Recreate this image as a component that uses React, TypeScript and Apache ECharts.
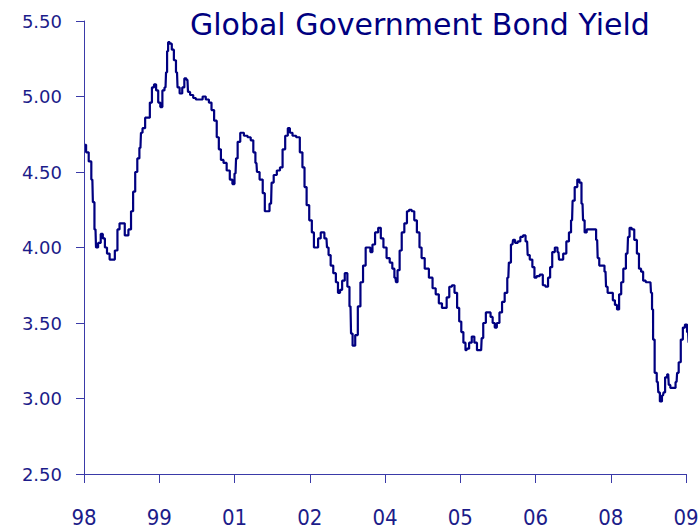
import React, { useEffect, useRef } from "react";
import * as echarts from "echarts";

const title = "Global Government Bond Yield";
const xTickLabels = ["98", "99", "01", "02", "04", "05", "06", "08", "09"];
const weeksPerTick = 72;
const yTicks = { min: 2.5, max: 5.5, step: 0.5 };

// week index since start of series
const weeks = [
  1, 3, 6, 8, 9, 11, 12, 15, 17, 19, 21, 23, 26, 28, 31, 33, 35, 37, 41, 44,
  46, 48, 50, 52, 54, 55, 57, 60, 62, 64, 66, 68, 70, 72, 74, 76, 78, 79, 80, 81,
  83, 85, 87, 89, 90, 93, 95, 97, 99, 100, 103, 106, 108, 112, 115, 118, 121, 123, 126, 128,
  130, 132, 135, 138, 141, 143, 145, 146, 148, 151, 155, 158, 161, 163, 165, 166, 170, 172, 174, 176,
  179, 180, 183, 186, 189, 191, 194, 196, 198, 201, 205, 208, 210, 212, 214, 217, 219, 221, 223, 225,
  228, 232, 233, 235, 237, 240, 242, 244, 246, 248, 251, 253, 255, 256, 258, 261, 263, 266, 268, 271,
  273, 275, 277, 280, 283, 285, 288, 291, 294, 296, 298, 299, 301, 303, 305, 308, 310, 312, 315, 317,
  320, 322, 324, 328, 332, 335, 338, 341, 344, 346, 348, 351, 353, 356, 358, 360, 362, 364, 366, 367,
  370, 372, 375, 377, 380, 381, 383, 386, 388, 390, 392, 394, 396, 399, 401, 404, 406, 407, 410, 411,
  414, 416, 419, 421, 424, 425, 428, 430, 432, 434, 438, 440, 443, 445, 447, 449, 452, 454, 455, 457,
  460, 463, 465, 467, 468, 471, 473, 475, 477, 478, 480, 482, 487, 489, 491, 492, 494, 497, 499, 500,
  502, 505, 507, 509, 511, 513, 515, 517, 520, 521, 523, 525, 528, 530, 532, 534, 536, 539, 542, 543,
  544, 545, 547, 549, 550, 552, 554, 555, 557, 559, 560, 562, 565, 567, 568, 570, 572, 574, 576, 578,
  579,
];

const yields = [
  4.68, 4.63, 4.57, 4.45, 4.30, 4.12, 4.00, 4.03, 4.09, 4.06, 4.00, 3.96, 3.92, 3.92, 3.98, 4.12, 4.16, 4.16, 4.08, 4.12,
  4.24, 4.37, 4.50, 4.59, 4.66, 4.76, 4.79, 4.86, 4.86, 4.96, 5.06, 5.08, 5.04, 4.96, 4.93, 5.04, 5.06, 5.16, 5.30, 5.36,
  5.35, 5.31, 5.24, 5.16, 5.06, 5.02, 5.06, 5.12, 5.11, 5.03, 5.01, 4.99, 4.98, 4.98, 5.00, 4.98, 4.96, 4.91, 4.84, 4.73,
  4.65, 4.58, 4.56, 4.51, 4.45, 4.42, 4.49, 4.59, 4.70, 4.76, 4.74, 4.73, 4.71, 4.63, 4.56, 4.50, 4.45, 4.36, 4.24, 4.24,
  4.29, 4.43, 4.48, 4.51, 4.53, 4.65, 4.74, 4.79, 4.76, 4.74, 4.73, 4.63, 4.53, 4.40, 4.28, 4.18, 4.10, 4.00, 4.00, 4.06,
  4.10, 4.06, 4.00, 3.95, 3.88, 3.83, 3.77, 3.70, 3.72, 3.78, 3.83, 3.74, 3.61, 3.43, 3.35, 3.42, 3.61, 3.77, 3.88, 4.00,
  4.00, 3.97, 4.02, 4.10, 4.13, 4.06, 4.00, 3.93, 3.90, 3.86, 3.80, 3.77, 3.85, 3.98, 4.10, 4.16, 4.24, 4.25, 4.24, 4.18,
  4.10, 4.00, 3.93, 3.86, 3.80, 3.73, 3.69, 3.63, 3.60, 3.60, 3.67, 3.74, 3.75, 3.70, 3.60, 3.51, 3.44, 3.37, 3.32, 3.33,
  3.37, 3.41, 3.37, 3.32, 3.32, 3.40, 3.50, 3.57, 3.57, 3.54, 3.50, 3.47, 3.50, 3.57, 3.64, 3.70, 3.80, 3.90, 4.02, 4.05,
  4.03, 4.04, 4.07, 4.08, 4.04, 3.95, 3.92, 3.87, 3.80, 3.81, 3.82, 3.75, 3.74, 3.80, 3.87, 3.97, 4.00, 3.97, 3.92, 3.92,
  3.96, 4.04, 4.10, 4.18, 4.31, 4.40, 4.45, 4.43, 4.29, 4.18, 4.10, 4.12, 4.12, 4.12, 4.05, 3.93, 3.88, 3.88, 3.84, 3.74,
  3.70, 3.70, 3.65, 3.62, 3.59, 3.69, 3.77, 3.86, 3.96, 4.07, 4.13, 4.12, 4.05, 3.96, 3.86, 3.84, 3.78, 3.77, 3.77, 3.70,
  3.59, 3.39, 3.17, 3.11, 3.04, 2.98, 3.02, 3.04, 3.14, 3.16, 3.09, 3.07, 3.07, 3.11, 3.17, 3.24, 3.39, 3.47, 3.49, 3.44,
  3.37,
];

const NAVY = "#000080";
const LABEL = "#1c1c8a";
const AXIS = "#3a3aa8";

export default function App() {
  const ref = useRef<HTMLDivElement>(null);
  useEffect(() => {
    if (!ref.current) return;
    const chart = echarts.init(ref.current, undefined, { renderer: "svg" });
    const data = weeks.map((w, i) => [w, yields[i]]);
    const maxWeek = weeksPerTick * (xTickLabels.length - 1);
    chart.setOption({
      animation: false,
      backgroundColor: "#ffffff",
      title: {
        text: title,
        left: 185,
        top: 4,
        textStyle: {
          color: NAVY,
          fontFamily: "DejaVu Sans",
          fontSize: 30,
          fontWeight: "normal",
        },
      },
      grid: {
        left: 84,
        right: 14,
        top: 21,
        bottom: 56,
        containLabel: false,
        outerBoundsMode: "none",
      },
      xAxis: {
        type: "value",
        min: 0,
        max: maxWeek,
        interval: weeksPerTick,
        splitLine: { show: false },
        axisLine: { show: true, lineStyle: { color: AXIS, width: 1 } },
        axisTick: { show: true, length: 9, lineStyle: { color: AXIS } },
        axisLabel: {
          margin: 32,
          color: LABEL,
          fontFamily: "DejaVu Sans Condensed, DejaVu Sans",
          fontSize: 22,
          hideOverlap: false,
          showMinLabel: true,
          showMaxLabel: true,
          formatter: (v: number) => {
            const idx = Math.round(v / weeksPerTick);
            return Math.abs(v - idx * weeksPerTick) < 1e-6 ? xTickLabels[idx] ?? "" : "";
          },
        },
      },
      yAxis: {
        type: "value",
        min: yTicks.min,
        max: yTicks.max,
        interval: yTicks.step,
        splitLine: { show: false },
        axisLine: { show: true, lineStyle: { color: AXIS, width: 1 } },
        axisTick: { show: true, length: 8, lineStyle: { color: AXIS } },
        axisLabel: {
          margin: 22,
          color: LABEL,
          fontFamily: "DejaVu Sans",
          fontSize: 18,
          formatter: (v: number) => v.toFixed(2),
        },
      },
      series: [
        {
          type: "line",
          data,
          step: "middle",
          showSymbol: false,
          clip: false,
          lineStyle: { color: NAVY, width: 2.2 },
        },
      ],
    });
    return () => chart.dispose();
  }, []);
  return (
    <div
      ref={ref}
      style={{ position: "fixed", left: 0, top: 0, width: 700, height: 530 }}
    />
  );
}
